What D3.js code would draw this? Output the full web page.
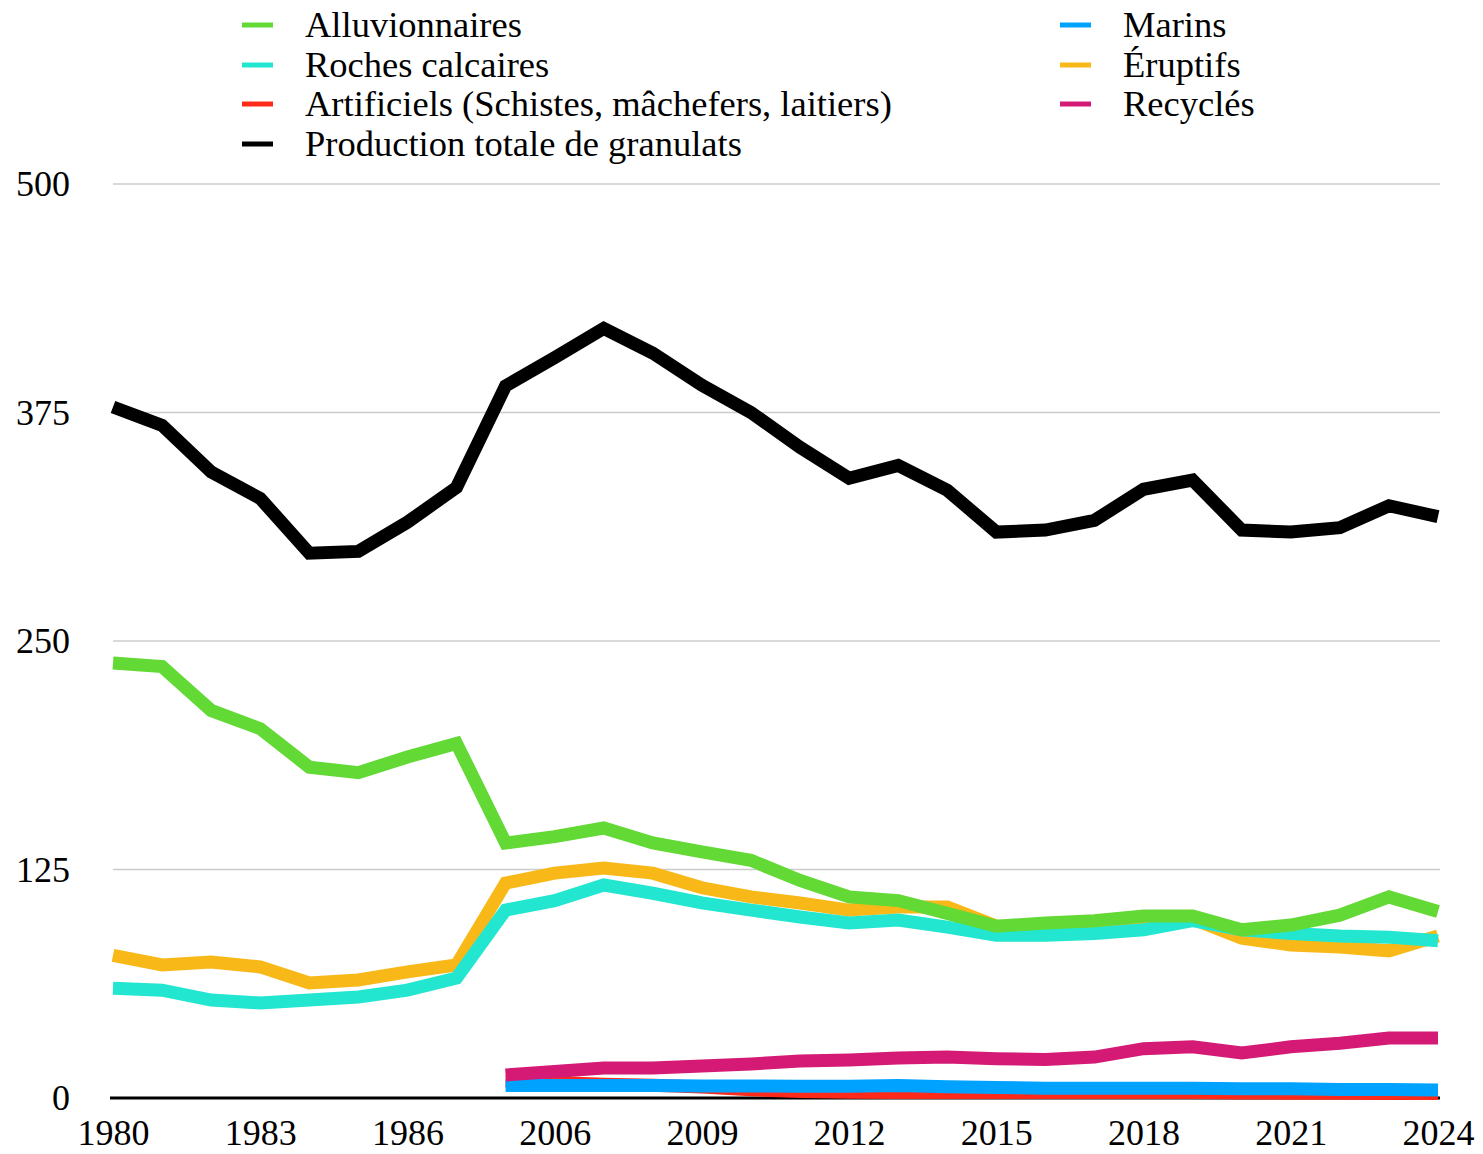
<!DOCTYPE html>
<html>
<head>
<meta charset="utf-8">
<script src="https://cdn.jsdelivr.net/npm/d3@7/dist/d3.min.js"></script>
<style>
  html, body { margin: 0; padding: 0; background: #fff; }
  svg { display: block; }
  text { font-family: "Liberation Serif", "Times New Roman", serif; fill: #000; }
</style>
</head>
<body>
<svg id="chart" width="1483" height="1154"></svg>
<script>
// ---- Data ----
const years = ["1980","1981","1982","1983","1984","1985","1986","1987","2005","2006","2007","2008","2009","2010","2011","2012","2013","2014","2015","2016","2017","2018","2019","2020","2021","2022","2023","2024"];
const xTickLabels = ["1980","1983","1986","2006","2009","2012","2015","2018","2021","2024"];
const yTickValues = [0, 125, 250, 375, 500];

const alluvionnaires = [238,236,212,202,181,178,186.5,194,139.5,143,147.7,139.5,134.6,130,119,110,108,101,94,95.7,97,99.6,99.6,92,94.6,100,110,102];
const rochesCalcaires = [60,59,53.6,52,53.6,55.3,59,65.6,102.8,108,116.5,112,106.7,102.8,99,95.7,97.4,93.5,89,89,90,92,97,92,90,88.6,88,86];
const eruptifs = [78,72.8,74.4,71.7,62.9,64.6,69,72.8,117.6,123,125.8,123,115,110,106.7,102.8,104.5,104.5,94,94,94,95,98,87.5,83.7,82.6,80.5,88.6];
const marins = [null,null,null,null,null,null,null,null,6.8,6.8,6.8,6.8,6.6,6.6,6.4,6.4,6.8,6.2,5.8,5.4,5.4,5.4,5.4,5,5,4.6,4.6,4.4];
const artificiels = [null,null,null,null,null,null,null,null,9.5,8.5,7.5,7,6,4.5,3.5,3.2,3,3,3,3,3,3,3,2.8,2.6,2.6,2.5,2.5];
const recycles = [null,null,null,null,null,null,null,null,12.6,14.5,16.4,16.4,17.5,18.6,20.2,20.8,21.9,22.4,21.5,21,22.4,27,28,24.6,28,30,32.8,32.8];
const productionTotale = [378,368,342.5,328,298,299,315,334,389.5,405,421,407.5,390,375,356,339,346,332.5,309.6,310.7,316,333,338,310.7,309.6,312,324,318];

const seriesNames = ["Alluvionnaires","Marins","Roches calcaires","Éruptifs","Artificiels (Schistes, mâchefers, laitiers)","Recyclés","Production totale de granulats"];
const seriesColors = ["#62d935","#00a2ff","#22e6cf","#f8b918","#ff2a1a","#d41a74","#000000"];

// ---- Build ----
const series = [
  {name: seriesNames[0], color: seriesColors[0], values: alluvionnaires},
  {name: seriesNames[1], color: seriesColors[1], values: marins},
  {name: seriesNames[2], color: seriesColors[2], values: rochesCalcaires},
  {name: seriesNames[3], color: seriesColors[3], values: eruptifs},
  {name: seriesNames[4], color: seriesColors[4], values: artificiels},
  {name: seriesNames[5], color: seriesColors[5], values: recycles},
  {name: seriesNames[6], color: seriesColors[6], values: productionTotale}
];

const svg = d3.select("#chart");
const x = d3.scalePoint().domain(years).range([113, 1438]);
const y = d3.scaleLinear().domain([0, 500]).range([1098, 184]);

// gridlines
svg.append("g").selectAll("line").data(yTickValues.filter(v => v > 0)).join("line")
  .attr("x1", 113).attr("x2", 1440)
  .attr("y1", d => y(d)).attr("y2", d => y(d))
  .attr("stroke", "#cccccc").attr("stroke-width", 1.5);

// y labels
const yAxis = d3.axisLeft(y).tickValues(yTickValues).tickSize(0).tickPadding(0);
const gy = svg.append("g").attr("transform", "translate(70,0)").call(yAxis);
gy.select(".domain").remove();
gy.selectAll("text").style("font-size", "36px").style("font-family", '"Liberation Serif", "Times New Roman", serif').attr("fill", "#000").attr("dy", "0.33em");

// x labels
const xAxis = d3.axisBottom(x).tickValues(years.filter(yr => xTickLabels.includes(yr))).tickSize(0).tickPadding(0);
const gx = svg.append("g").attr("transform", "translate(0,1119)").call(xAxis);
gx.select(".domain").remove();
gx.selectAll("text").style("font-size", "36px").style("font-family", '"Liberation Serif", "Times New Roman", serif').attr("fill", "#000").attr("dy", "0.71em");

// baseline
svg.append("line").attr("x1", 110).attr("x2", 1440).attr("y1", y(0)).attr("y2", y(0))
  .attr("stroke", "#000").attr("stroke-width", 3);

// lines (draw order)
const drawOrder = [4, 1, 5, 3, 2, 0, 6];
const line = d3.line()
  .defined(d => d != null)
  .x((d, i) => x(years[i]))
  .y(d => y(d));

svg.append("g").selectAll("path").data(drawOrder.map(i => series[i])).join("path")
  .attr("d", s => line(s.values))
  .attr("fill", "none")
  .attr("stroke", s => s.color)
  .attr("stroke-width", 13)
  .attr("stroke-linejoin", "miter")
  .attr("stroke-miterlimit", 3)
  .attr("stroke-linecap", "butt");

// legend
const legendLayout = [
  {i: 0, col: 0, row: 0}, {i: 2, col: 0, row: 1}, {i: 4, col: 0, row: 2}, {i: 6, col: 0, row: 3},
  {i: 1, col: 1, row: 0}, {i: 3, col: 1, row: 1}, {i: 5, col: 1, row: 2}
];
const colX = [242, 1060];
const rowY = [37, 77, 116, 156];
const lg = svg.append("g").selectAll("g").data(legendLayout).join("g")
  .attr("transform", d => `translate(${colX[d.col]},${rowY[d.row]})`);
lg.append("line").attr("x1", 0).attr("x2", 31).attr("y1", -12).attr("y2", -12)
  .attr("stroke", d => series[d.i].color).attr("stroke-width", 5);
lg.append("text").attr("x", 63).attr("y", 0)
  .style("font-size", "36.5px")
  .text(d => series[d.i].name);
</script>
</body>
</html>
